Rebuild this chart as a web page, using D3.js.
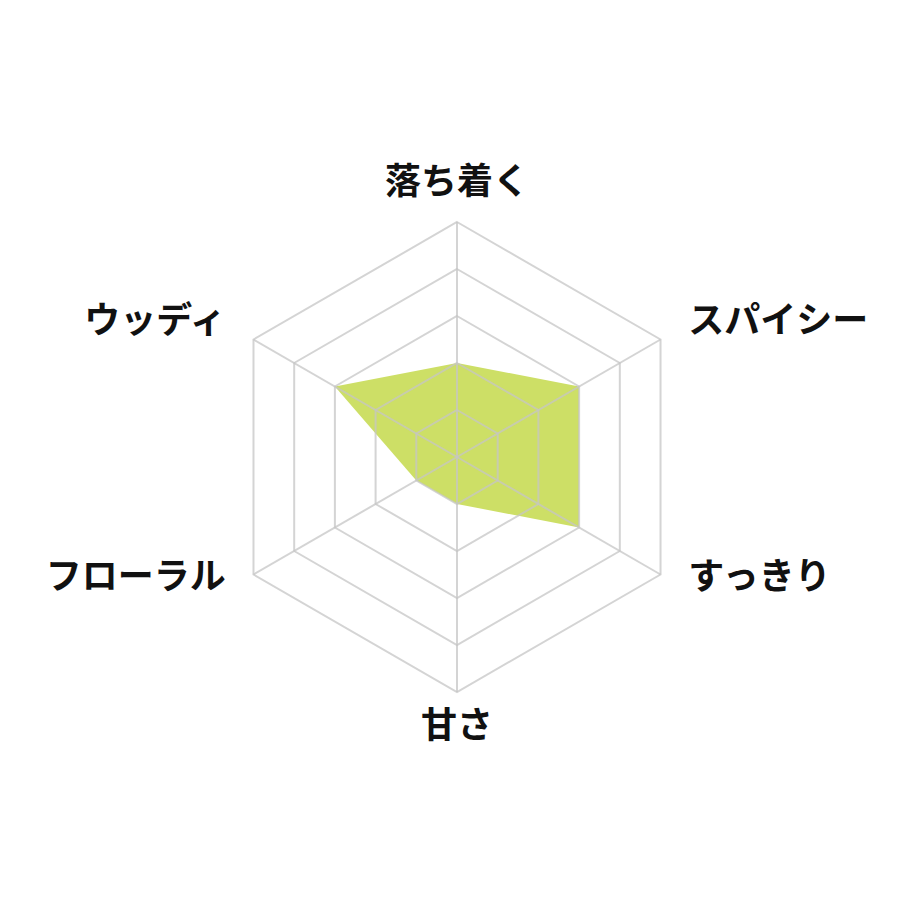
<!DOCTYPE html>
<html>
<head>
<meta charset="utf-8">
<script src="https://cdn.jsdelivr.net/npm/d3@7"></script>
<style>
html,body{margin:0;padding:0;background:#fff;}
svg{display:block;}
</style>
</head>
<body>
<svg id="chart" width="920" height="920"></svg>
<script>
// Data
const categories = ["落ち着く", "スパイシー", "すっきり", "甘さ", "フローラル", "ウッディ"];
const values = [2, 3, 3, 1, 1, 3];
const levels = [1, 2, 3, 4, 5];
const maxValue = 5;

const width = 920, height = 920;
const cx = 457, cy = 457, radius = 235;
const svg = d3.select("#chart");
const g = svg.append("g").attr("transform", `translate(${cx},${cy})`);

const r = d3.scaleLinear().domain([0, maxValue]).range([0, radius]);
const angle = d3.scaleLinear().domain([0, categories.length]).range([0, 2 * Math.PI]);

const line = d3.lineRadial()
  .angle((d, i) => angle(i))
  .radius(d => r(d))
  .curve(d3.curveLinearClosed);

// Data polygon
g.append("path")
  .datum(values)
  .attr("d", line)
  .attr("fill", "#cddf66")
  .attr("stroke", "none");

// Grid rings
const grid = g.append("g").attr("stroke", "#c6c6c6").attr("stroke-width", 2).attr("fill", "none").attr("stroke-opacity", 0.75);
levels.forEach(lv => {
  grid.append("path")
    .datum(categories.map(() => lv))
    .attr("d", line);
});
// Spokes
categories.forEach((c, i) => {
  const a = angle(i);
  grid.append("line")
    .attr("x1", 0).attr("y1", 0)
    .attr("x2", Math.sin(a) * r(maxValue))
    .attr("y2", -Math.cos(a) * r(maxValue));
});

// Labels
const labelR = r(maxValue) + 32;
g.append("g").selectAll("text")
  .data(categories)
  .join("text")
  .attr("x", (d, i) => Math.sin(angle(i)) * labelR)
  .attr("y", (d, i) => {
    const c = Math.cos(angle(i));
    const k = Math.abs(c) > 0.9 ? 1 : 0.96;
    return -c * labelR * k + 4 + (c < -0.9 ? 10 : 0);
  })
  .attr("text-anchor", (d, i) => {
    const s = Math.sin(angle(i));
    return Math.abs(s) < 0.1 ? "middle" : (s > 0 ? "start" : "end");
  })
  .attr("font-family", "'Noto Sans CJK JP', 'Noto Sans', sans-serif")
  .attr("font-weight", 700)
  .attr("font-size", 36)
  .attr("fill", "#111")
  .text(d => d);
</script>
</body>
</html>
